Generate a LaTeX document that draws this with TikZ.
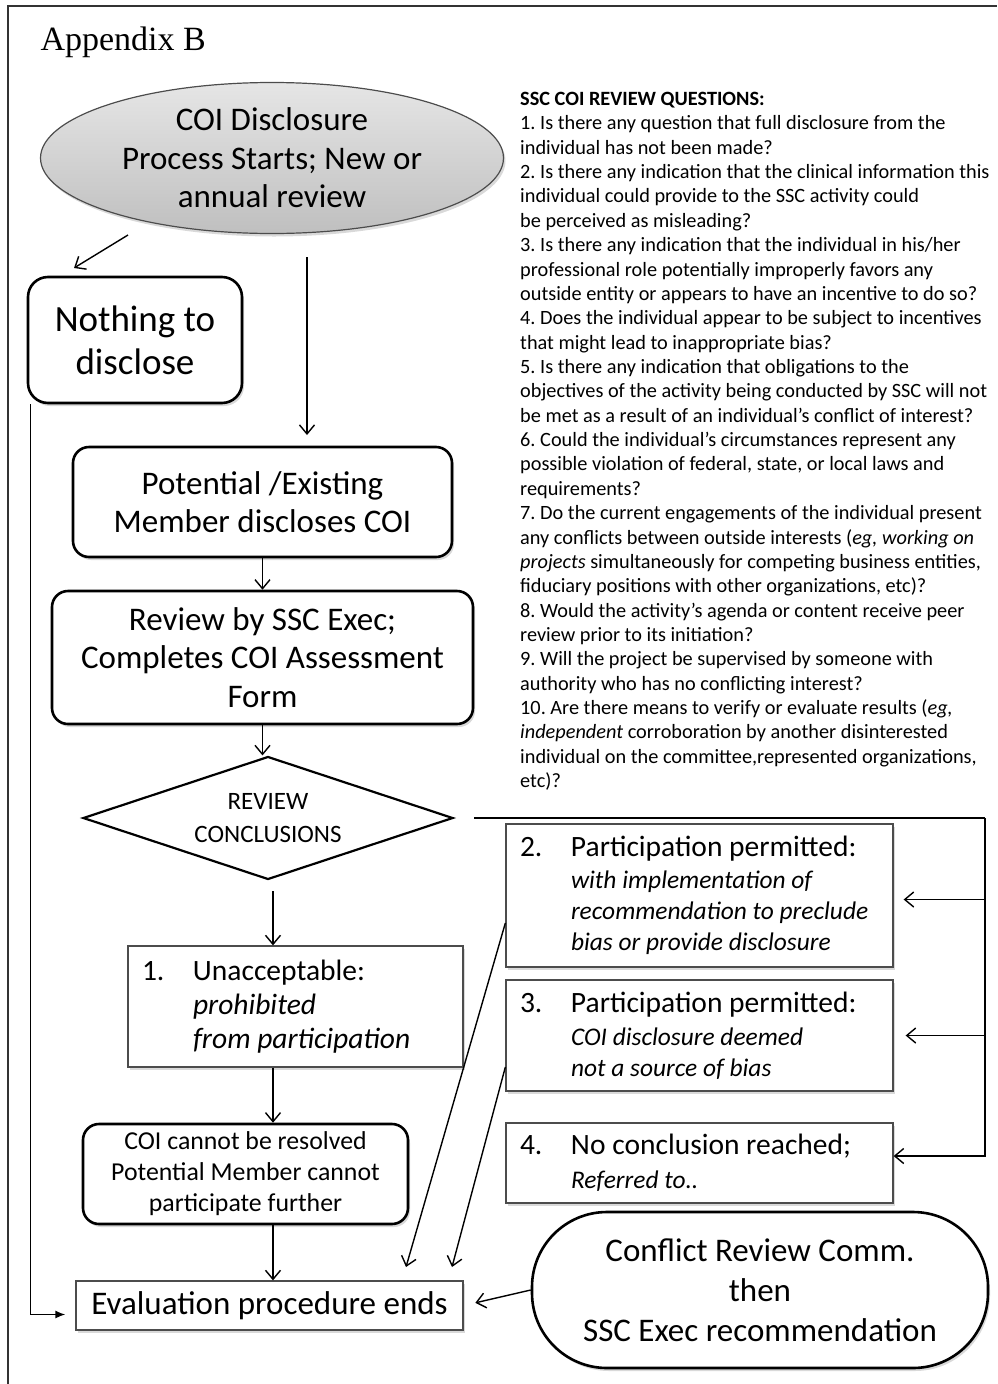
\documentclass[tikz,border=0pt]{standalone}
\usepackage{fontspec}
\setmainfont{Carlito}
\newfontfamily\apxfont{Liberation Serif}
\usetikzlibrary{arrows.meta,shapes.geometric,shadows}
\frenchspacing

\tikzset{
  arr/.style={-{Straight Barb[length=9pt,width=15pt]}, line width=1.4pt},
  conn/.style={line width=1.4pt},
  shade/.style={drop shadow={opacity=0.3, shadow xshift=2pt, shadow yshift=-3pt}},
  rbox/.style={draw, line width=2.6pt, rounded corners=16pt, fill=white, align=center, inner sep=0pt, shade},
  gbox/.style={draw=black!70, line width=1.3pt, fill=white, align=flush left, inner xsep=14pt, inner ysep=0pt, shade},
  head/.style={font=\fontsize{33}{38.5}\selectfont},
}
\newcommand{\numlab}[1]{\makebox[51pt][l]{#1}}
\newcommand{\hd}[1]{{\upshape\fontsize{29.5}{31}\selectfont #1}}

\begin{document}
\begin{tikzpicture}[x=1pt,y=-1pt]
  \useasboundingbox (0,0) rectangle (997,1384);
  \draw[line width=1.3pt, black!80] (8,1384) -- (8,6) -- (997,6);

  \node[anchor=base west, font=\apxfont\fontsize{34}{40}\selectfont] (apx) at (37,50) {Appendix B};

  % left column
  \node[ellipse, draw=black!70, line width=1.2pt, top color=gray!20, bottom color=gray!50,
        minimum width=463pt, minimum height=151pt, inner sep=0pt, align=center, head, shade]
        (start) at (272,158) {COI Disclosure\\Process Starts; New or\\annual review};
  \node[rbox, rounded corners=20pt, minimum width=214pt, minimum height=126pt,
        font=\fontsize{37}{43}\selectfont] (nothing) at (135,340) {Nothing to\\disclose};
  \node[rbox, minimum width=379pt, minimum height=110pt, head] (member) at (262.5,502)
        {Potential /Existing\\Member discloses COI};
  \node[rbox, minimum width=421pt, minimum height=133pt, head] (review) at (262.5,657.5)
        {Review by SSC Exec;\\Completes COI Assessment\\Form};
  \node[diamond, aspect=3, draw, line width=2.2pt, fill=white, minimum width=370pt, minimum height=123pt,
        inner sep=0pt, align=center, font=\fontsize{25}{33}\selectfont] (concl) at (268,818)
        {REVIEW\\CONCLUSIONS};
  \node[gbox, text width=307pt, minimum height=121pt, font=\fontsize{29.5}{34}\selectfont] (unacc) at (295.5,1006.5)
        {\numlab{1.}Unacceptable:\\ \hspace*{51pt}\textit{prohibited}\\ \hspace*{51pt}\textit{from participation}};
  \node[rbox, minimum width=325pt, minimum height=100pt, font=\fontsize{25.8}{31}\selectfont] (cannot) at (245.5,1174)
        {COI cannot be resolved\\Potential Member cannot\\participate further};
  \node[gbox, align=center, minimum width=387pt, minimum height=49pt, inner xsep=0pt,
        font=\fontsize{33}{38}\selectfont] (evalend) at (269.5,1305.5) {Evaluation procedure ends};

  % right column
  \node[anchor=north west, align=left, inner sep=0pt, font=\fontsize{20.3}{24.36}\selectfont] (quest) at (520,92)
  {\textbf{SSC COI REVIEW QUESTIONS:}\\
   1. Is there any question that full disclosure from the\\
   individual has not been made?\\
   2. Is there any indication that the clinical information this\\
   individual could provide to the SSC activity could\\
   be perceived as misleading?\\
   3. Is there any indication that the individual in his/her\\
   professional role potentially improperly favors any\\
   outside entity or appears to have an incentive to do so?\\
   4. Does the individual appear to be subject to incentives\\
   that might lead to inappropriate bias?\\
   5. Is there any indication that obligations to the\\
   objectives of the activity being conducted by SSC will not\\
   be met as a result of an individual’s conflict of interest?\\
   6. Could the individual’s circumstances represent any\\
   possible violation of federal, state, or local laws and\\
   requirements?\\
   7. Do the current engagements of the individual present\\
   any conflicts between outside interests (\textit{eg, working on}\\
   \textit{projects} simultaneously for competing business entities,\\
   fiduciary positions with other organizations, etc)?\\
   8. Would the activity’s agenda or content receive peer\\
   review prior to its initiation?\\
   9. Will the project be supervised by someone with\\
   authority who has no conflicting interest?\\
   10. Are there means to verify or evaluate results (\textit{eg,}\\
   \textit{independent} corroboration by another disinterested\\
   individual on the committee,represented organizations,\\
   etc)?};

  \node[gbox, text width=359pt, minimum height=143pt, font=\fontsize{25.4}{31}\itshape] (part2) at (699.5,895.5)
        {\numlab{\hd{2.}}\hd{Participation permitted:}\\[1pt]
         \hspace*{51pt}with implementation of\\ \hspace*{51pt}recommendation to preclude\\
         \hspace*{51pt}bias or provide disclosure};
  \node[gbox, text width=359pt, minimum height=111pt, font=\fontsize{25.4}{31}\itshape] (part3) at (699.5,1035.5)
        {\numlab{\hd{3.}}\hd{Participation permitted:}\\[2pt]
         \hspace*{51pt}COI disclosure deemed\\ \hspace*{51pt}not a source of bias};
  \node[gbox, text width=359pt, minimum height=80pt, font=\fontsize{25.4}{31}\itshape] (part4) at (699.5,1163)
        {\numlab{\hd{4.}}\hd{No conclusion reached;}\\[3pt]
         \hspace*{51pt}Referred to..};
  \node[rbox, rounded corners=75pt, minimum width=456pt, minimum height=156pt,
        font=\fontsize{33}{40}\selectfont] (crc) at (760,1290)
        {Conflict Review Comm.\\then\\SSC Exec recommendation};

  % connectors
  \coordinate (s1) at (128,235);
  \coordinate (s1e) at (74,268);
  \coordinate (s2) at (307,257);
  \coordinate (s2e) at (307,435);
  \coordinate (c1) at (273,891);
  \coordinate (r1) at (985,818);
  \coordinate (d1) at (406,1267);
  \coordinate (d2) at (452,1267);
  \coordinate (p2e) at ([yshift=-4pt]part2.east);

  \draw[arr] (s1) -- (s1e);
  \draw[arr] (s2) -- (s2e);
  \draw[arr] (member) -- (member |- review.north);
  \draw[arr] (review.south) -- (review.south |- concl.north);
  \draw[arr] (c1) -- (c1 |- unacc.north);
  \draw[arr] (c1 |- unacc.south) -- (c1 |- cannot.north);
  \draw[arr] (c1 |- cannot.south) -- (c1 |- evalend.north);
  \draw[conn, -{Latex[length=10pt,width=8pt]}, shorten >=10pt] ([xshift=4pt]nothing.south west) |- ([yshift=-9pt]evalend.west);

  \draw[conn] ([xshift=20pt]concl.east) -- (r1);
  \draw[arr] (r1) |- ([yshift=7pt]part4.east);
  \draw[arr, shorten >=10pt] (r1 |- p2e) -- (p2e);
  \draw[arr, shorten >=12pt] (r1 |- part3.east) -- (part3.east);

  \draw[arr] ([yshift=-27.5pt]part2.west) -- (d1);
  \draw[arr] ([yshift=-31.5pt]part3.west) -- (d2);
  \draw[arr, shorten >=12pt] (crc.west) -- (evalend.east);
\end{tikzpicture}
\end{document}
